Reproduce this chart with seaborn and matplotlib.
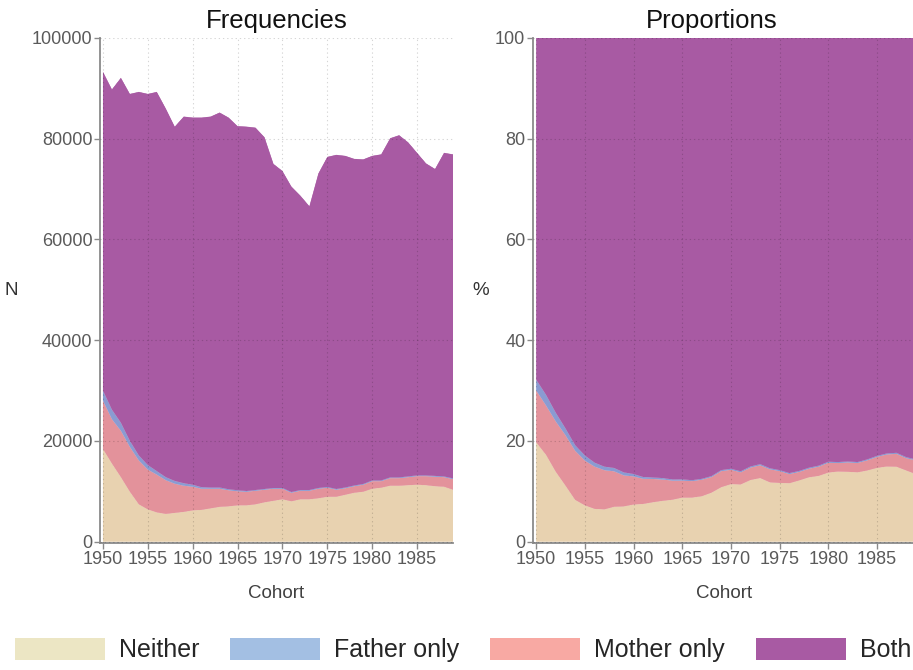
import numpy as np
import pandas as pd
import matplotlib
matplotlib.use("Agg")
import matplotlib.pyplot as plt
from matplotlib.patches import Patch
import seaborn as sns
import seaborn.objects as so

# ---------------- data ----------------
years = list(range(1950, 1990))
neither = [18400, 15500, 12800, 9900, 7400, 6400, 5800, 5500, 5700, 5900,
           6200, 6300, 6600, 6900, 7000, 7200, 7200, 7400, 7800, 8100,
           8400, 8000, 8400, 8400, 8600, 8900, 8900, 9300, 9700, 9900,
           10500, 10700, 11100, 11100, 11200, 11300, 11200, 11000, 10900, 10300]
mother_only = [9600, 8800, 9200, 8900, 8700, 7900, 7500, 6700, 5800, 5200,
               4700, 4200, 3900, 3600, 3200, 2800, 2700, 2700, 2500, 2400,
               2100, 1700, 1700, 1700, 1900, 1800, 1400, 1300, 1300, 1400,
               1500, 1300, 1500, 1500, 1600, 1700, 1800, 1900, 1900, 2100]
father_only = [2000, 1900, 1600, 1200, 1000, 900, 700, 600, 550, 500,
               400, 300, 250, 250, 200, 200, 150, 150, 150, 150,
               150, 150, 150, 150, 150, 150, 150, 150, 150, 150,
               150, 150, 150, 150, 150, 150, 150, 150, 150, 150]
both = [63300, 63600, 68500, 68900, 72200, 73700, 75300, 73200, 70350, 72800,
        72900, 73400, 73650, 74450, 73800, 72300, 72350, 71950, 69850, 64350,
        62950, 60650, 58450, 56350, 62450, 65550, 66350, 65850, 64850, 64450,
        64450, 64750, 67350, 67950, 66350, 64050, 61950, 60950, 64250, 64350]

stack_order = ["Neither", "Mother only", "Father only", "Both"]
legend_order = ["Neither", "Father only", "Mother only", "Both"]
xticks = [1950, 1955, 1960, 1965, 1970, 1975, 1980, 1985]
yticks_n = [0, 20000, 40000, 60000, 80000, 100000]
yticks_p = [0, 20, 40, 60, 80, 100]

series = {"Neither": neither, "Mother only": mother_only,
          "Father only": father_only, "Both": both}
df = pd.concat([pd.DataFrame({"Cohort": years, "Status": s, "N": series[s]})
                for s in stack_order], ignore_index=True)
df["Pct"] = df["N"] / df.groupby("Cohort")["N"].transform("sum") * 100

# ---------------- style ----------------
sns.set_theme(style="white")
plt.rcParams["font.family"] = ["Liberation Sans", "DejaVu Sans"]

area_colors = {"Neither": "#e8d2b0", "Mother only": "#e3929b",
               "Father only": "#8a9bd2", "Both": "#a85aa3"}
legend_colors = {"Neither": "#ece6c4", "Father only": "#a3bfe3",
                 "Mother only": "#f8a9a3", "Both": "#a85aa3"}
tick_col = "#5a5a5a"
spine_col = "#8a8a8a"

W, H = 913, 670
fig = plt.figure(figsize=(W / 100, H / 100), dpi=100)
ax1 = fig.add_axes([100 / W, (H - 543.3) / H, 353 / W, 505.3 / H])
ax2 = fig.add_axes([533 / W, (H - 543.3) / H, 383 / W, 505.3 / H])

for ax, yvar in [(ax1, "N"), (ax2, "Pct")]:
    (so.Plot(df, x="Cohort", y=yvar, color="Status")
       .add(so.Area(alpha=1, edgewidth=0.4), so.Stack(), legend=False)
       .scale(color=area_colors)
       .on(ax)
       .plot())

for ax, yt, ylab, lx in [(ax1, yticks_n, "N", -0.25), (ax2, yticks_p, "%", -0.137)]:
    ax.set_facecolor("white")
    ax.set_xlim(1949.67, 1989)
    ax.set_ylim(yt[-1] * -0.0033, yt[-1])
    ax.set_xticks(xticks, [str(t) for t in xticks])
    ax.set_yticks(yt, [str(t) for t in yt])
    for s in ["top", "right"]:
        ax.spines[s].set_visible(False)
    for s in ["left", "bottom"]:
        ax.spines[s].set_visible(True)
        ax.spines[s].set_color(spine_col)
        ax.spines[s].set_linewidth(1.3)
    ax.grid(True, color="#000000", alpha=0.16, linestyle=(0, (1.2, 2.6)),
            linewidth=0.8)
    ax.set_axisbelow(False)
    ax.tick_params(axis="both", which="major", direction="out", length=4,
                   width=1, color=spine_col, labelcolor=tick_col,
                   labelsize=13, pad=1.5, bottom=True, left=True)
    ax.set_xlabel("Cohort", fontsize=13.5, color="#404040", labelpad=12)
    ax.set_ylabel(ylab, fontsize=13.5, color="#333333", rotation=0,
                  va="center", ha="center")
    ax.yaxis.set_label_coords(lx, 0.5)

ax1.set_title("Frequencies", fontsize=18.5, color="#111111", pad=7)
ax2.set_title("Proportions", fontsize=18.5, color="#111111", pad=7, x=0.467)

handles = [Patch(facecolor=legend_colors[k], edgecolor="none", label=k)
           for k in legend_order]
fig.legend(handles=handles, loc="center", bbox_to_anchor=(0.507, 0.03),
           ncol=4, frameon=False, fontsize=18, handlelength=3.6,
           handleheight=1.0, handletextpad=0.56, columnspacing=1.24,
           borderpad=0, borderaxespad=0)

fig.savefig("out.png", dpi=100)
